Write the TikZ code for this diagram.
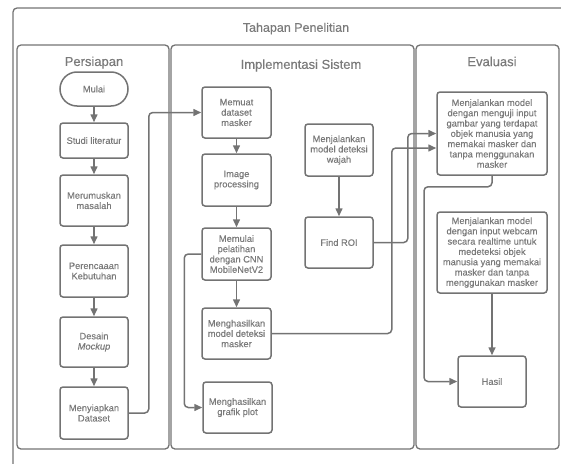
\documentclass[tikz,border=0pt]{standalone}
\usepackage{fontspec}
\setmainfont{Liberation Sans}
\newfontfamily\labelfont{Liberation Sans}[FakeBold=0.35]
\usetikzlibrary{arrows.meta}
\definecolor{linegray}{HTML}{737373}
\definecolor{textgray}{HTML}{7a7a7a}

\begin{document}
\begin{tikzpicture}[x=1pt,y=-1pt,
	box/.style={draw=linegray,line width=1.5pt,rounded corners=3pt,minimum width=68pt,minimum height=51pt,
		align=center,inner sep=1pt,text=textgray,font=\labelfont\fontsize{9.3}{10.3}\selectfont},
	lane/.style={draw=linegray,line width=1.3pt,rounded corners=4pt},
	lanetitle/.style={text=textgray,font=\labelfont\fontsize{13}{15}\selectfont},
	flow/.style={draw=linegray,line width=1.5pt,rounded corners=4pt,-{Triangle[length=8pt,width=7pt]}}]
	\useasboundingbox (0,0) rectangle (561,463);
	\clip (0,0) rectangle (561,463);
	% frame and lanes
	\draw[lane] (13,8) rectangle (580,490);
	\node[lanetitle,font=\labelfont\fontsize{12.5}{15}\selectfont] (judul) at (296,28.6) {Tahapan Penelitian};
	\draw[lane] (17,45) rectangle (169,449);
	\draw[lane] (171,45) rectangle (414,449);
	\draw[lane] (416,45) rectangle (559,449);
	\node[lanetitle] (persiapan) at (94,62.6) {Persiapan};
	\node[lanetitle] (implementasi) at (301,65.5) {Implementasi Sistem};
	\node[lanetitle] (evaluasi) at (492,61.5) {Evaluasi};
	% Persiapan
	\node[box,rounded corners=17pt,minimum height=34pt] (mulai) at (94,89) {Mulai};
	\node[box,minimum height=35pt] (studi) at (94,140.5) {Studi literatur};
	\node[box] (rumus) at (94,200.5) {Merumuskan\\masalah};
	\node[box,minimum height=52pt] (rencana) at (94,271) {Perencaaan\\Kebutuhan};
	\node[box,minimum height=50pt] (desain) at (94,342) {Desain\\\textit{Mockup}};
	\node[box,minimum height=52pt] (siap) at (94,413) {Menyiapkan\\Dataset};
	% Implementasi Sistem
	\node[box,minimum width=69pt] (muat) at (236.5,112.5) {Memuat\\dataset\\masker};
	\node[box,minimum width=69pt,minimum height=52pt] (olah) at (236.5,180) {Image\\processing};
	\node[box,minimum width=69pt,minimum height=52pt] (latih) at (236.5,254) {Memulai\\pelatihan\\dengan CNN\\MobileNetV2};
	\node[box,minimum width=69pt] (model) at (236.5,333.5) {Menghasilkan\\model deteksi\\masker};
	\node[box,minimum width=69pt] (grafik) at (237.5,407.5) {Menghasilkan\\grafik plot};
	\node[box,minimum height=52pt] (wajah) at (339,150) {Menjalankan\\model deteksi\\wajah};
	\node[box] (roi) at (339,242.5) {Find ROI};
	% Evaluasi
	\node[box,minimum width=110pt,minimum height=83pt] (uji) at (492,133.5) {Menjalankan model\\dengan menguji input\\gambar yang terdapat\\objek manusia yang\\memakai masker dan\\tanpa menggunakan\\masker};
	\node[box,minimum width=110pt,minimum height=81pt] (webcam) at (492,252.5) {Menjalankan model\\dengan input webcam\\secara realtime untuk\\medeteksi objek\\manusia yang memakai\\masker dan tanpa\\menggunakan masker};
	\node[box] (hasil) at (492,381.5) {Hasil};
	% connectors
	\draw[flow] (mulai) -- (studi);
	\draw[flow] (studi) -- (rumus);
	\draw[flow] (rumus) -- (rencana);
	\draw[flow] (rencana) -- (desain);
	\draw[flow] (desain) -- (siap);
	\draw[flow] (siap.east) -- ++(20,0) |- (muat.west);
	\draw[flow] (muat) -- (olah);
	\draw[flow] (olah) -- (latih);
	\draw[flow] (latih) -- (model);
	\draw[flow] (latih.west) -- ++(-17,0) |- (grafik.west);
	\draw[flow] (wajah) -- (roi);
	\draw[flow] (roi.east) -- ++(34,0) |- (uji.west);
	\draw[flow] (model.east) -- ++(120,0) |- ([yshift=-14.5pt]uji.west);
	\draw[flow] (uji.south) -- ++(0,11) -- ++(-68,0) |- (hasil.west);
	\draw[flow] (webcam) -- (hasil);
\end{tikzpicture}
\end{document}
